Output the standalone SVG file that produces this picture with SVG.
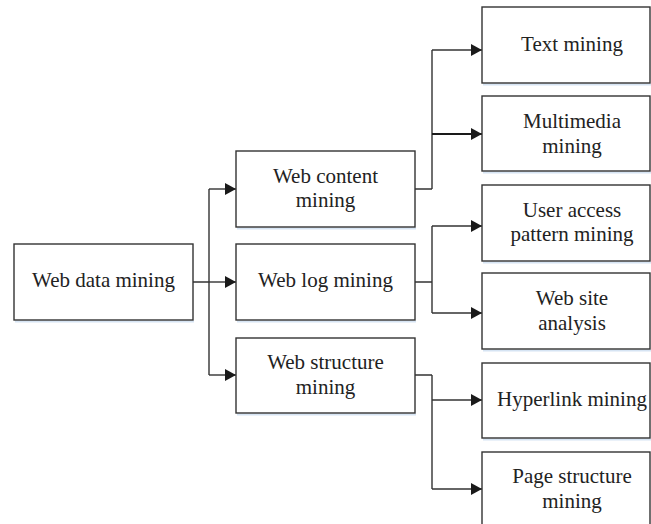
<svg xmlns="http://www.w3.org/2000/svg" width="651" height="524" viewBox="0 0 651 524">
<defs>
<marker id="arr" markerWidth="12" markerHeight="12" refX="11" refY="6" orient="auto" markerUnits="userSpaceOnUse">
<path d="M0,0 L11,6 L0,12 Z" fill="#1a1a1a"/>
</marker>
<style>
.box{fill:#fff;stroke:#333;stroke-width:1.4}
.sh{fill:none;stroke:#d6e4f3;stroke-width:2}
.t{font-family:"Liberation Serif","Times New Roman",serif;font-size:21px;fill:#222;text-anchor:middle}
.c{fill:none;stroke:#333;stroke-width:1.4}
</style>
</defs>
<rect width="651" height="524" fill="#fff"/>
<g id="connectors">
<path class="c" d="M193,282 H209 M209,189 V375"/>
<path class="c" d="M209,189 H236" marker-end="url(#arr)"/>
<path class="c" d="M209,282 H236" marker-end="url(#arr)"/>
<path class="c" d="M209,375 H236" marker-end="url(#arr)"/>
<path class="c" d="M415,189 H432 M432,50 V189"/>
<path class="c" d="M432,50 H482" marker-end="url(#arr)"/>
<path class="c" d="M432,134 H482" marker-end="url(#arr)" style="stroke-width:2;stroke:#1a1a1a"/>
<path class="c" d="M415,282 H432 M432,226 V313"/>
<path class="c" d="M432,226 H482" marker-end="url(#arr)"/>
<path class="c" d="M432,313 H482" marker-end="url(#arr)"/>
<path class="c" d="M415,375 H432 M432,375 V489"/>
<path class="c" d="M432,400 H482" marker-end="url(#arr)"/>
<path class="c" d="M432,489 H482" marker-end="url(#arr)"/>
</g>
<g id="web-data-mining">
<path class="sh" d="M15,321.5 H194"/>
<rect class="box" x="14" y="244" width="179" height="76"/>
<text class="t" x="103.5" y="287">Web data mining</text>
</g>
<g id="web-content-mining">
<path class="sh" d="M237,228.5 H416"/>
<rect class="box" x="236" y="151" width="179" height="76"/>
<text class="t" x="325.5" y="183">Web content</text>
<text class="t" x="325.5" y="207">mining</text>
</g>
<g id="web-log-mining">
<path class="sh" d="M237,321.5 H416"/>
<rect class="box" x="236" y="244" width="179" height="76"/>
<text class="t" x="325.5" y="287">Web log mining</text>
</g>
<g id="web-structure-mining">
<path class="sh" d="M237,414.5 H416"/>
<rect class="box" x="236" y="338" width="179" height="75"/>
<text class="t" x="325.5" y="369">Web structure</text>
<text class="t" x="325.5" y="394">mining</text>
</g>
<g id="text-mining">
<path class="sh" d="M483,84.5 H651"/>
<rect class="box" x="482" y="7" width="168" height="76"/>
<text class="t" x="572" y="51">Text mining</text>
</g>
<g id="multimedia-mining">
<path class="sh" d="M483,172.5 H651"/>
<rect class="box" x="482" y="96" width="168" height="75"/>
<text class="t" x="572" y="128">Multimedia</text>
<text class="t" x="572" y="153">mining</text>
</g>
<g id="user-access-pattern-mining">
<path class="sh" d="M483,262.5 H651"/>
<rect class="box" x="482" y="185" width="168" height="76"/>
<text class="t" x="572" y="217">User access</text>
<text class="t" x="572" y="241">pattern mining</text>
</g>
<g id="web-site-analysis">
<path class="sh" d="M483,350.5 H651"/>
<rect class="box" x="482" y="273" width="168" height="76"/>
<text class="t" x="572" y="305">Web site</text>
<text class="t" x="572" y="330">analysis</text>
</g>
<g id="hyperlink-mining">
<path class="sh" d="M483,439.5 H651"/>
<rect class="box" x="482" y="363" width="168" height="75"/>
<text class="t" x="572" y="406">Hyperlink mining</text>
</g>
<g id="page-structure-mining">
<rect class="box" x="482" y="452" width="168" height="76"/>
<text class="t" x="572" y="483">Page structure</text>
<text class="t" x="572" y="508">mining</text>
</g>
</svg>
